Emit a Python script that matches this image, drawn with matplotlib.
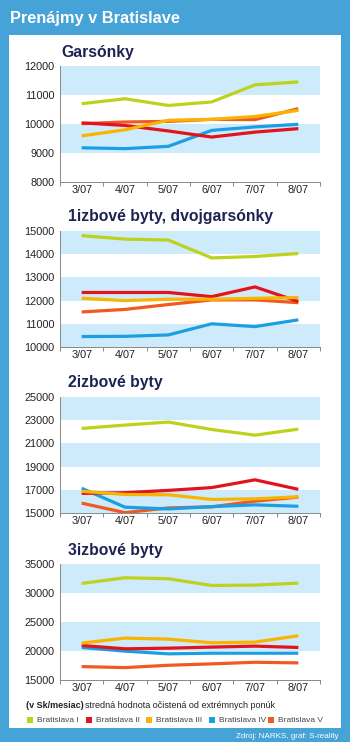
import matplotlib.pyplot as plt
from matplotlib.patches import Rectangle
import numpy as np

# Data
months = ["3/07", "4/07", "5/07", "6/07", "7/07", "8/07"]
districts = ["Bratislava I", "Bratislava II", "Bratislava III", "Bratislava IV", "Bratislava V"]
colors = ["#bdd21c", "#e3131d", "#f8b400", "#1c9fe2", "#f05a22"]

garsonky = {
    "Bratislava I": [10700, 10870, 10640, 10760, 11350, 11450],
    "Bratislava II": [10040, 9950, 9760, 9550, 9720, 9840],
    "Bratislava III": [9590, 9800, 10130, 10160, 10260, 10470],
    "Bratislava IV": [9180, 9150, 9230, 9780, 9900, 9990],
    "Bratislava V": [10010, 10070, 10090, 10160, 10150, 10530],
}
izbove1 = {
    "Bratislava I": [14800, 14650, 14610, 13840, 13900, 14030],
    "Bratislava II": [12350, 12350, 12350, 12170, 12590, 11960],
    "Bratislava III": [12100, 12000, 12060, 12060, 12100, 12130],
    "Bratislava IV": [10450, 10460, 10520, 11000, 10880, 11170],
    "Bratislava V": [11510, 11620, 11830, 12030, 12030, 11910],
}
izbove2 = {
    "Bratislava I": [22290, 22580, 22840, 22200, 21710, 22230],
    "Bratislava II": [16690, 16750, 16950, 17190, 17860, 17040],
    "Bratislava III": [16870, 16600, 16570, 16170, 16220, 16400],
    "Bratislava IV": [17130, 15500, 15350, 15550, 15700, 15580],
    "Bratislava V": [15850, 15030, 15440, 15530, 16020, 16370],
}
izbove3 = {
    "Bratislava I": [31650, 32630, 32460, 31300, 31360, 31700],
    "Bratislava II": [20950, 20380, 20490, 20670, 20840, 20610],
    "Bratislava III": [21360, 22220, 22050, 21420, 21530, 22630],
    "Bratislava IV": [20610, 19970, 19510, 19620, 19620, 19620],
    "Bratislava V": [17310, 17140, 17540, 17780, 18060, 17950],
}

# title, data, y range, y step, shaded bands, axes top (px), title x (px)
panels = [
    ("Garsónky", garsonky, (8000, 12000), 1000, [(9000, 10000), (11000, 12000)], 66, 61),
    ("1izbové byty, dvojgarsónky", izbove1, (10000, 15000), 1000,
     [(10000, 11000), (12000, 13000), (14000, 15000)], 231, 68),
    ("2izbové byty", izbove2, (15000, 25000), 2000,
     [(15000, 17000), (19000, 21000), (23000, 25000)], 397, 68),
    ("3izbové byty", izbove3, (15000, 35000), 5000, [(20000, 25000), (30000, 35000)], 564, 68),
]

W, H = 350, 742
frame_blue = "#45a3d7"
band_blue = "#cdebfa"
navy = "#1e2352"

plt.rcParams['font.family'] = ['Liberation Sans', 'DejaVu Sans']

fig = plt.figure(figsize=(W / 100, H / 100), dpi=100)
fig.patch.set_facecolor(frame_blue)

# white inner panel
fig.patches.append(Rectangle((9 / W, 1 - 728 / H), 332 / W, 693 / H,
                             transform=fig.transFigure, facecolor="white",
                             edgecolor="none", zorder=-5))

fig.text(10 / W, 1 - 18 / H, "Prenájmy v Bratislave", color="white",
         fontsize=11.8, fontweight="bold", va="center", ha="left")

x = np.arange(len(months))
plot_h = 116
draw_order = ["Bratislava V", "Bratislava IV", "Bratislava II", "Bratislava III", "Bratislava I"]

for title, data, ylim, step, bands, top, tx in panels:
    ax = fig.add_axes([60 / W, 1 - (top + plot_h) / H, 260 / W, plot_h / H])
    ax.set_zorder(2)
    ax.set_facecolor("none")
    for lo, hi in bands:
        ax.axhspan(lo, hi, color=band_blue, lw=0, zorder=0)
    for name in draw_order:
        c = colors[districts.index(name)]
        ax.plot(x, data[name], color=c, lw=2.3, solid_capstyle="butt", zorder=3)
    ax.set_xlim(-0.5, 5.5)
    ax.set_ylim(*ylim)
    ax.set_yticks(np.arange(ylim[0], ylim[1] + 1, step))
    ax.set_yticklabels([str(v) for v in range(ylim[0], ylim[1] + 1, step)])
    ax.set_xticks(x)
    ax.set_xticklabels(months)
    ax.set_xticks(np.arange(-0.5, 6, 1), minor=True)
    ax.tick_params(axis="x", which="major", length=0, labelsize=7.8, pad=2.5, colors="#222222")
    ax.tick_params(axis="x", which="minor", length=3, direction="out", color="#888888", width=0.7)
    ax.tick_params(axis="y", length=0, labelsize=7.8, pad=4, colors="#222222")
    for s in ["top", "right"]:
        ax.spines[s].set_visible(False)
    for s in ["left", "bottom"]:
        ax.spines[s].set_color("#888888")
        ax.spines[s].set_linewidth(0.7)
    fig.text(tx / W, 1 - (top - 14) / H, title, color=navy, fontsize=11.3,
             fontweight="bold", va="center", ha="left")

# note line
fig.text(26 / W, 1 - 705 / H, "(v Sk/mesiac)", color="#222222", fontsize=6.5,
         fontweight="bold", va="center")
fig.text(85 / W, 1 - 705 / H, "stredná hodnota očistená od extrémnych ponúk",
         color="#222222", fontsize=6.5, va="center")

# legend
leg_x = [27, 86, 146, 209, 268]
for xx, name, c in zip(leg_x, districts, colors):
    fig.patches.append(Rectangle((xx / W, 1 - 723 / H), 6 / W, 6 / H,
                                 transform=fig.transFigure, facecolor=c,
                                 edgecolor="none"))
    fig.text((xx + 10) / W, 1 - 720 / H, name, color="#444444", fontsize=6,
             va="center", ha="left")

fig.text(338 / W, 1 - 736 / H, "Zdroj: NARKS, graf: S-reality", color="white",
         fontsize=5.8, va="center", ha="right")

fig.savefig("out.png", dpi=100, facecolor=fig.get_facecolor())
